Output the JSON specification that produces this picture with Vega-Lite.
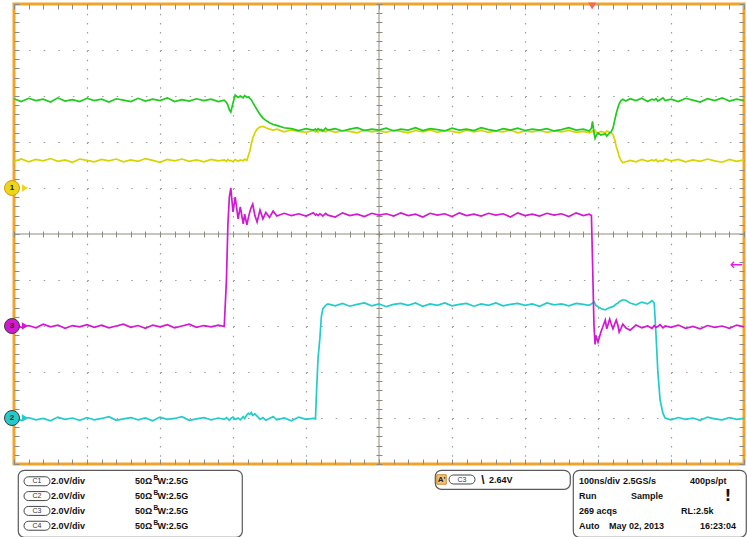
{
"$schema":"https://vega.github.io/schema/vega-lite/v6.json",
"background":"white",
"padding":{"left":1,"top":0,"right":0,"bottom":0},
"bounds":"flush",
"spacing":6,
"config":{"view":{"stroke":null},"font":"Liberation Sans","text":{"font":"Liberation Sans","fontWeight":"bold","fontSize":9,"color":"#111","baseline":"middle"},"axis":{"minExtent":0,"labels":false,"domain":false,"grid":false,"labelPadding":0,"titlePadding":0}},
"datasets":{
"scope":[
{"t":-500,"c1":1.58,"c2":-4.00,"c3":-1.97,"c4":2.94},
{"t":-490,"c1":1.63,"c2":-4.05,"c3":-2.03,"c4":2.88},
{"t":-480,"c1":1.57,"c2":-3.99,"c3":-1.99,"c4":2.95},
{"t":-470,"c1":1.62,"c2":-4.04,"c3":-2.04,"c4":2.90},
{"t":-460,"c1":1.59,"c2":-4.01,"c3":-1.96,"c4":2.93},
{"t":-450,"c1":1.64,"c2":-4.06,"c3":-2.02,"c4":2.87},
{"t":-440,"c1":1.58,"c2":-3.98,"c3":-1.98,"c4":2.96},
{"t":-430,"c1":1.61,"c2":-4.03,"c3":-2.05,"c4":2.89},
{"t":-420,"c1":1.56,"c2":-4.00,"c3":-1.99,"c4":2.92},
{"t":-410,"c1":1.63,"c2":-4.05,"c3":-2.02,"c4":2.88},
{"t":-400,"c1":1.60,"c2":-3.99,"c3":-1.97,"c4":2.95},
{"t":-390,"c1":1.57,"c2":-4.04,"c3":-2.03,"c4":2.90},
{"t":-380,"c1":1.62,"c2":-4.01,"c3":-1.98,"c4":2.93},
{"t":-370,"c1":1.59,"c2":-3.97,"c3":-2.04,"c4":2.87},
{"t":-360,"c1":1.63,"c2":-4.05,"c3":-2.00,"c4":2.94},
{"t":-350,"c1":1.57,"c2":-4.02,"c3":-1.96,"c4":2.91},
{"t":-340,"c1":1.61,"c2":-3.99,"c3":-2.03,"c4":2.88},
{"t":-330,"c1":1.58,"c2":-4.04,"c3":-1.99,"c4":2.95},
{"t":-320,"c1":1.64,"c2":-4.00,"c3":-2.05,"c4":2.89},
{"t":-310,"c1":1.60,"c2":-4.06,"c3":-1.98,"c4":2.93},
{"t":-300,"c1":1.56,"c2":-3.98,"c3":-2.02,"c4":2.90},
{"t":-290,"c1":1.62,"c2":-4.03,"c3":-1.97,"c4":2.96},
{"t":-280,"c1":1.59,"c2":-4.01,"c3":-2.04,"c4":2.88},
{"t":-270,"c1":1.63,"c2":-3.97,"c3":-2.00,"c4":2.92},
{"t":-260,"c1":1.58,"c2":-4.05,"c3":-1.96,"c4":2.89},
{"t":-250,"c1":1.61,"c2":-4.02,"c3":-2.03,"c4":2.94},
{"t":-240,"c1":1.57,"c2":-3.99,"c3":-1.99,"c4":2.90},
{"t":-230,"c1":1.62,"c2":-4.04,"c3":-2.02,"c4":2.93},
{"t":-220,"c1":1.59,"c2":-4.00,"c3":-1.98,"c4":2.88},
{"t":-212,"c1":1.61,"c2":-4.03,"c3":-2.01,"c4":2.91},
{"t":-209,"c1":1.58,"c2":-3.99,"c3":-1.0,"c4":2.86},
{"t":-207,"c1":1.62,"c2":-4.02,"c3":0.2,"c4":2.80},
{"t":-205,"c1":1.59,"c2":-4.05,"c3":0.8,"c4":2.70},
{"t":-203,"c1":1.60,"c2":-4.01,"c3":1.0,"c4":2.65},
{"t":-200,"c1":1.57,"c2":-3.98,"c3":0.48,"c4":2.85},
{"t":-197,"c1":1.62,"c2":-4.03,"c3":0.80,"c4":3.02},
{"t":-193,"c1":1.58,"c2":-4.00,"c3":0.33,"c4":2.97},
{"t":-190,"c1":1.61,"c2":-4.04,"c3":0.59,"c4":3.00},
{"t":-186,"c1":1.59,"c2":-3.97,"c3":0.22,"c4":2.96},
{"t":-184,"c1":1.63,"c2":-4.01,"c3":0.43,"c4":3.01},
{"t":-181,"c1":1.60,"c2":-3.93,"c3":0.20,"c4":2.97},
{"t":-179,"c1":1.70,"c2":-3.90,"c3":0.35,"c4":2.98},
{"t":-177,"c1":1.80,"c2":-3.92,"c3":0.48,"c4":2.95},
{"t":-175,"c1":1.95,"c2":-3.88,"c3":0.58,"c4":2.92},
{"t":-173,"c1":2.08,"c2":-3.94,"c3":0.65,"c4":2.86},
{"t":-170,"c1":2.20,"c2":-3.91,"c3":0.40,"c4":2.78},
{"t":-167,"c1":2.28,"c2":-3.96,"c3":0.26,"c4":2.70},
{"t":-163,"c1":2.33,"c2":-4.03,"c3":0.52,"c4":2.60},
{"t":-159,"c1":2.34,"c2":-3.99,"c3":0.33,"c4":2.52},
{"t":-155,"c1":2.31,"c2":-4.05,"c3":0.47,"c4":2.47},
{"t":-150,"c1":2.28,"c2":-4.01,"c3":0.36,"c4":2.42},
{"t":-145,"c1":2.26,"c2":-3.97,"c3":0.50,"c4":2.38},
{"t":-140,"c1":2.28,"c2":-4.04,"c3":0.39,"c4":2.36},
{"t":-130,"c1":2.22,"c2":-4.00,"c3":0.45,"c4":2.31},
{"t":-120,"c1":2.26,"c2":-4.06,"c3":0.40,"c4":2.29},
{"t":-110,"c1":2.23,"c2":-3.98,"c3":0.44,"c4":2.25},
{"t":-100,"c1":2.21,"c2":-4.03,"c3":0.39,"c4":2.29},
{"t":-90,"c1":2.25,"c2":-4.01,"c3":0.46,"c4":2.26},
{"t":-87,"c1":2.22,"c2":-4.02,"c3":0.41,"c4":2.28},
{"t":-85.5,"c1":2.24,"c2":-3.40,"c3":0.43,"c4":2.25},
{"t":-83.5,"c1":2.21,"c2":-2.70,"c3":0.40,"c4":2.29},
{"t":-81,"c1":2.26,"c2":-2.27,"c3":0.44,"c4":2.26},
{"t":-79,"c1":2.23,"c2":-1.80,"c3":0.42,"c4":2.27},
{"t":-77,"c1":2.25,"c2":-1.63,"c3":0.39,"c4":2.24},
{"t":-73,"c1":2.22,"c2":-1.55,"c3":0.45,"c4":2.30},
{"t":-70,"c1":2.26,"c2":-1.52,"c3":0.41,"c4":2.26},
{"t":-60,"c1":2.21,"c2":-1.56,"c3":0.37,"c4":2.29},
{"t":-50,"c1":2.25,"c2":-1.51,"c3":0.46,"c4":2.24},
{"t":-40,"c1":2.23,"c2":-1.57,"c3":0.40,"c4":2.28},
{"t":-30,"c1":2.20,"c2":-1.53,"c3":0.43,"c4":2.31},
{"t":-20,"c1":2.26,"c2":-1.50,"c3":0.38,"c4":2.25},
{"t":-10,"c1":2.22,"c2":-1.56,"c3":0.45,"c4":2.28},
{"t":0,"c1":2.24,"c2":-1.52,"c3":0.41,"c4":2.26},
{"t":10,"c1":2.21,"c2":-1.58,"c3":0.44,"c4":2.30},
{"t":20,"c1":2.26,"c2":-1.53,"c3":0.39,"c4":2.24},
{"t":30,"c1":2.23,"c2":-1.51,"c3":0.46,"c4":2.28},
{"t":40,"c1":2.20,"c2":-1.55,"c3":0.40,"c4":2.26},
{"t":50,"c1":2.25,"c2":-1.50,"c3":0.43,"c4":2.31},
{"t":60,"c1":2.22,"c2":-1.57,"c3":0.37,"c4":2.25},
{"t":70,"c1":2.26,"c2":-1.52,"c3":0.45,"c4":2.29},
{"t":80,"c1":2.21,"c2":-1.55,"c3":0.41,"c4":2.27},
{"t":90,"c1":2.25,"c2":-1.50,"c3":0.44,"c4":2.24},
{"t":100,"c1":2.23,"c2":-1.56,"c3":0.38,"c4":2.30},
{"t":110,"c1":2.20,"c2":-1.53,"c3":0.46,"c4":2.26},
{"t":120,"c1":2.26,"c2":-1.51,"c3":0.40,"c4":2.28},
{"t":130,"c1":2.22,"c2":-1.57,"c3":0.43,"c4":2.25},
{"t":140,"c1":2.25,"c2":-1.52,"c3":0.39,"c4":2.31},
{"t":150,"c1":2.21,"c2":-1.55,"c3":0.45,"c4":2.27},
{"t":160,"c1":2.24,"c2":-1.50,"c3":0.41,"c4":2.24},
{"t":170,"c1":2.22,"c2":-1.56,"c3":0.44,"c4":2.29},
{"t":180,"c1":2.26,"c2":-1.53,"c3":0.37,"c4":2.26},
{"t":190,"c1":2.20,"c2":-1.51,"c3":0.46,"c4":2.30},
{"t":200,"c1":2.24,"c2":-1.55,"c3":0.40,"c4":2.25},
{"t":210,"c1":2.22,"c2":-1.52,"c3":0.43,"c4":2.28},
{"t":220,"c1":2.25,"c2":-1.57,"c3":0.39,"c4":2.26},
{"t":230,"c1":2.21,"c2":-1.50,"c3":0.45,"c4":2.29},
{"t":240,"c1":2.24,"c2":-1.54,"c3":0.41,"c4":2.24},
{"t":250,"c1":2.22,"c2":-1.52,"c3":0.44,"c4":2.27},
{"t":260,"c1":2.25,"c2":-1.56,"c3":0.38,"c4":2.31},
{"t":270,"c1":2.21,"c2":-1.51,"c3":0.46,"c4":2.26},
{"t":280,"c1":2.23,"c2":-1.53,"c3":0.40,"c4":2.28},
{"t":288,"c1":2.20,"c2":-1.55,"c3":0.43,"c4":2.24},
{"t":291,"c1":2.22,"c2":-1.52,"c3":0.40,"c4":2.30},
{"t":292.5,"c1":2.24,"c2":-1.50,"c3":-0.6,"c4":2.45},
{"t":294.5,"c1":2.21,"c2":-1.47,"c3":-2.0,"c4":2.20},
{"t":296,"c1":2.25,"c2":-1.52,"c3":-2.40,"c4":2.08},
{"t":297,"c1":2.22,"c2":-1.55,"c3":-2.20,"c4":2.12},
{"t":300,"c1":2.19,"c2":-1.58,"c3":-2.35,"c4":2.20},
{"t":304,"c1":2.23,"c2":-1.62,"c3":-2.13,"c4":2.15},
{"t":310,"c1":2.20,"c2":-1.65,"c3":-1.87,"c4":2.18},
{"t":312,"c1":2.24,"c2":-1.63,"c3":-2.06,"c4":2.13},
{"t":316,"c1":2.21,"c2":-1.60,"c3":-1.85,"c4":2.20},
{"t":318,"c1":2.20,"c2":-1.59,"c3":-1.95,"c4":2.22},
{"t":320.5,"c1":2.16,"c2":-1.58,"c3":-2.06,"c4":2.30},
{"t":323,"c1":2.05,"c2":-1.55,"c3":-1.95,"c4":2.48},
{"t":325,"c1":1.90,"c2":-1.52,"c3":-1.87,"c4":2.62},
{"t":327.5,"c1":1.78,"c2":-1.50,"c3":-2.00,"c4":2.76},
{"t":329,"c1":1.68,"c2":-1.47,"c3":-2.13,"c4":2.83},
{"t":331.5,"c1":1.60,"c2":-1.45,"c3":-2.05,"c4":2.90},
{"t":334,"c1":1.55,"c2":-1.43,"c3":-1.96,"c4":2.93},
{"t":338,"c1":1.57,"c2":-1.44,"c3":-2.04,"c4":2.89},
{"t":344,"c1":1.60,"c2":-1.50,"c3":-2.09,"c4":2.94},
{"t":352,"c1":1.57,"c2":-1.54,"c3":-1.98,"c4":2.90},
{"t":360,"c1":1.62,"c2":-1.48,"c3":-2.04,"c4":2.95},
{"t":368,"c1":1.58,"c2":-1.52,"c3":-2.00,"c4":2.88},
{"t":374,"c1":1.61,"c2":-1.45,"c3":-2.05,"c4":2.93},
{"t":377,"c1":1.59,"c2":-1.50,"c3":-1.99,"c4":2.91},
{"t":379.5,"c1":1.62,"c2":-2.20,"c3":-2.03,"c4":2.94},
{"t":382,"c1":1.57,"c2":-3.00,"c3":-2.01,"c4":2.89},
{"t":385,"c1":1.60,"c2":-3.60,"c3":-1.97,"c4":2.92},
{"t":389,"c1":1.58,"c2":-3.90,"c3":-2.04,"c4":2.96},
{"t":392,"c1":1.63,"c2":-4.00,"c3":-2.00,"c4":2.90},
{"t":400,"c1":1.59,"c2":-4.04,"c3":-2.03,"c4":2.93},
{"t":410,"c1":1.62,"c2":-3.99,"c3":-1.98,"c4":2.88},
{"t":420,"c1":1.57,"c2":-4.03,"c3":-2.05,"c4":2.95},
{"t":430,"c1":1.61,"c2":-4.00,"c3":-2.01,"c4":2.91},
{"t":440,"c1":1.58,"c2":-4.05,"c3":-2.06,"c4":2.87},
{"t":450,"c1":1.63,"c2":-3.98,"c3":-1.99,"c4":2.94},
{"t":460,"c1":1.59,"c2":-4.02,"c3":-2.03,"c4":2.90},
{"t":470,"c1":1.56,"c2":-4.04,"c3":-2.00,"c4":2.96},
{"t":480,"c1":1.62,"c2":-3.99,"c3":-2.05,"c4":2.89},
{"t":490,"c1":1.58,"c2":-4.03,"c3":-1.98,"c4":2.93},
{"t":500,"c1":1.61,"c2":-4.01,"c3":-2.02,"c4":2.90}
],
"markers":[{"ch":"1","lvl":1.0},{"ch":"3","lvl":-2.0},{"ch":"2","lvl":-4.0}],
"chan":[
{"ch":"C1","vdiv":"2.0V/div","imp":"50Ω","bwB":"B","bw":"W:2.5G"},
{"ch":"C2","vdiv":"2.0V/div","imp":"50Ω","bwB":"B","bw":"W:2.5G"},
{"ch":"C3","vdiv":"2.0V/div","imp":"50Ω","bwB":"B","bw":"W:2.5G"},
{"ch":"C4","vdiv":"2.0V/div","imp":"50Ω","bwB":"B","bw":"W:2.5G"}
],
"readout":[
{"row":1,"a":"100ns/div","b":"2.5GS/s","c":"400ps/pt"},
{"row":2,"a":"Run","b":"Sample","c":"!"},
{"row":3,"a":"269 acqs","b":"","c":"RL:2.5k"},
{"row":4,"a":"Auto","b":"May 02, 2013","c":"16:23:04"}
],
"trig":[{"mode":"A'","src":"C3","slope":"\\","lvl":"2.64V"}]
},
"vconcat":[
{
"width":730,"height":460,
"view":{"stroke":"#f2a32a","strokeWidth":3},
"resolve":{"axis":{"x":"independent","y":"independent"}},
"layer":[
{"data":{"values":[{}]},"mark":{"type":"point","opacity":0},
 "encoding":{
  "x":{"datum":0,"type":"quantitative","scale":{"domain":[-500,500],"nice":false,"zero":false},"axis":{"orient":"bottom","values":[-400,-300,-200,-100,100,200,300,400],"grid":true,"gridDash":[1.5,7.7],"gridColor":"#9c9c9c","gridWidth":1.2,"ticks":false,"labels":false,"domain":false,"title":null}},
  "y":{"datum":0,"type":"quantitative","scale":{"domain":[-5,5],"nice":false,"zero":false},"axis":{"orient":"left","values":[-4,-3,-2,-1,1,2,3,4],"grid":true,"gridDash":[1.5,13.1],"gridColor":"#9c9c9c","gridWidth":1.2,"ticks":false,"labels":false,"domain":false,"title":null}}}},
{"data":{"values":[{}]},"mark":{"type":"rule","color":"#8e8b7d","strokeWidth":1},
 "encoding":{"x":{"datum":0,"type":"quantitative","scale":{"domain":[-500,500],"nice":false,"zero":false},"axis":null}}},
{"data":{"values":[{}]},"mark":{"type":"rule","color":"#8e8b7d","strokeWidth":1},
 "encoding":{"y":{"datum":0,"type":"quantitative","scale":{"domain":[-5,5],"nice":false,"zero":false},"axis":null}}},
{"data":{"values":[{}]},"mark":{"type":"point","opacity":0},
 "encoding":{
  "x":{"datum":0,"type":"quantitative","scale":{"domain":[-500,500],"nice":false,"zero":false},"axis":{"orient":"bottom","offset":-233,"tickCount":50,"tickSize":6,"tickColor":"#8e8b7d","tickWidth":1,"labels":false,"domain":false,"grid":false,"title":null}},
  "y":{"datum":0,"type":"quantitative","scale":{"domain":[-5,5],"nice":false,"zero":false},"axis":{"orient":"left","offset":-368,"tickCount":50,"tickSize":6,"tickColor":"#8e8b7d","tickWidth":1,"labels":false,"domain":false,"grid":false,"title":null}}}},
{"data":{"values":[{}]},"mark":{"type":"point","opacity":0},
 "encoding":{
  "x":{"datum":0,"type":"quantitative","scale":{"domain":[-500,500],"nice":false,"zero":false},"axis":{"orient":"top","tickCount":50,"tickSize":-5,"tickColor":"#8a8a8a","tickWidth":1,"labels":false,"domain":false,"grid":false,"title":null}},
  "y":{"datum":0,"type":"quantitative","scale":{"domain":[-5,5],"nice":false,"zero":false},"axis":{"orient":"right","tickCount":50,"tickSize":-5,"tickColor":"#8a8a8a","tickWidth":1,"labels":false,"domain":false,"grid":false,"title":null}}}},
{"data":{"values":[{}]},"mark":{"type":"point","opacity":0},
 "encoding":{
  "x":{"datum":0,"type":"quantitative","scale":{"domain":[-500,500],"nice":false,"zero":false},"axis":{"orient":"bottom","tickCount":50,"tickSize":-5,"tickColor":"#8a8a8a","tickWidth":1,"labels":false,"domain":false,"grid":false,"title":null}},
  "y":{"datum":0,"type":"quantitative","scale":{"domain":[-5,5],"nice":false,"zero":false},"axis":{"orient":"left","tickCount":50,"tickSize":-5,"tickColor":"#8a8a8a","tickWidth":1,"labels":false,"domain":false,"grid":false,"title":null}}}},
{"data":{"name":"scope"},
 "transform":[{"fold":["c1","c4","c2","c3"],"as":["ch","v"]}],
 "mark":{"type":"line","strokeWidth":1.7},
 "encoding":{
  "x":{"field":"t","type":"quantitative","scale":{"domain":[-500,500],"nice":false,"zero":false},"axis":null},
  "y":{"field":"v","type":"quantitative","scale":{"domain":[-5,5],"nice":false,"zero":false},"axis":null},
  "color":{"field":"ch","type":"nominal","scale":{"domain":["c1","c2","c3","c4"],"range":["#d8d400","#22cccc","#d119d1","#1ecb1e"]},"legend":null},
  "detail":{"field":"ch"}}},
{"data":{"name":"markers"},"mark":{"type":"point","shape":"triangle-right","filled":true,"size":55,"xOffset":11,"opacity":1,"strokeWidth":0},
 "encoding":{
  "x":{"datum":-500,"type":"quantitative","scale":{"domain":[-500,500],"nice":false,"zero":false},"axis":null},
  "y":{"field":"lvl","type":"quantitative","scale":{"domain":[-5,5],"nice":false,"zero":false},"axis":null},
  "fill":{"field":"ch","type":"nominal","scale":{"domain":["1","2","3"],"range":["#ecd61c","#22cccc","#d119d1"]},"legend":null}}},
{"data":{"name":"markers"},"mark":{"type":"point","shape":"circle","filled":true,"size":225,"xOffset":-2,"opacity":1,"strokeWidth":1},
 "encoding":{
  "x":{"datum":-500,"type":"quantitative","scale":{"domain":[-500,500],"nice":false,"zero":false},"axis":null},
  "y":{"field":"lvl","type":"quantitative","scale":{"domain":[-5,5],"nice":false,"zero":false},"axis":null},
  "fill":{"field":"ch","type":"nominal","scale":{"domain":["1","2","3"],"range":["#ecd61c","#22cccc","#d119d1"]},"legend":null},
  "stroke":{"field":"ch","type":"nominal","scale":{"domain":["1","2","3"],"range":["#d79a10","#3a3a3a","#3a3a3a"]},"legend":null}}},
{"data":{"name":"markers"},"mark":{"type":"text","xOffset":-2,"fontSize":8,"fontWeight":"bold","color":"#222","align":"center"},
 "encoding":{
  "x":{"datum":-500,"type":"quantitative","scale":{"domain":[-500,500],"nice":false,"zero":false},"axis":null},
  "y":{"field":"lvl","type":"quantitative","scale":{"domain":[-5,5],"nice":false,"zero":false},"axis":null},
  "text":{"field":"ch"}}},
{"data":{"values":[{}]},"mark":{"type":"point","shape":"triangle-down","filled":true,"size":70,"color":"#f06a5e","opacity":1,"yOffset":2},
 "encoding":{
  "x":{"datum":292,"type":"quantitative","scale":{"domain":[-500,500],"nice":false,"zero":false},"axis":null},
  "y":{"datum":5,"type":"quantitative","scale":{"domain":[-5,5],"nice":false,"zero":false},"axis":null}}},
{"data":{"values":[{"lbl":"←"}]},"mark":{"type":"text","align":"right","dx":-1,"fontSize":16,"fontWeight":"normal","font":"DejaVu Sans","color":"#e01ee0"},
 "encoding":{
  "x":{"datum":500,"type":"quantitative","scale":{"domain":[-500,500],"nice":false,"zero":false},"axis":null},
  "y":{"datum":-0.67,"type":"quantitative","scale":{"domain":[-5,5],"nice":false,"zero":false},"axis":null},
  "text":{"field":"lbl"}}}
]
},
{
"hconcat":[
 {"width":1,"height":1,"data":{"values":[{}]},"mark":{"type":"point","opacity":0}},
 {"hconcat":[
  {"width":224,"height":67,"view":{"stroke":"#5a5a5a","strokeWidth":1.2,"cornerRadius":6,"fill":"white"},
   "data":{"name":"chan"},
   "encoding":{"y":{"field":"ch","type":"nominal","scale":{"domain":["C1","C2","C3","C4"],"padding":0.76},"axis":null}},
   "layer":[
    {"mark":{"type":"point","shape":"M -0.654 -0.346 L 0.654 -0.346 A 0.346 0.346 0 0 1 0.654 0.346 L -0.654 0.346 A 0.346 0.346 0 0 1 -0.654 -0.346 Z","size":676,"filled":false,"stroke":"#444","strokeWidth":1,"opacity":1},
     "encoding":{"x":{"datum":19,"type":"quantitative","scale":{"domain":[0,224],"nice":false,"zero":false},"axis":null}}},
    {"mark":{"type":"text","fontSize":7,"fontWeight":"normal","align":"center","color":"#333"},
     "encoding":{"x":{"datum":19,"type":"quantitative","scale":{"domain":[0,224],"nice":false,"zero":false},"axis":null},"text":{"field":"ch"}}},
    {"mark":{"type":"text","align":"left"},
     "encoding":{"x":{"datum":33,"type":"quantitative","scale":{"domain":[0,224],"nice":false,"zero":false},"axis":null},"text":{"field":"vdiv"}}},
    {"mark":{"type":"text","align":"left"},
     "encoding":{"x":{"datum":117,"type":"quantitative","scale":{"domain":[0,224],"nice":false,"zero":false},"axis":null},"text":{"field":"imp"}}},
    {"mark":{"type":"text","align":"left","fontSize":6.5,"dy":-3},
     "encoding":{"x":{"datum":135.5,"type":"quantitative","scale":{"domain":[0,224],"nice":false,"zero":false},"axis":null},"text":{"field":"bwB"}}},
    {"mark":{"type":"text","align":"left"},
     "encoding":{"x":{"datum":139.5,"type":"quantitative","scale":{"domain":[0,224],"nice":false,"zero":false},"axis":null},"text":{"field":"bw"}}}
   ]},
  {"hconcat":[
   {"width":135,"height":19,"view":{"stroke":"#5a5a5a","strokeWidth":1.2,"cornerRadius":6,"fill":"white"},
    "data":{"name":"trig"},
    "encoding":{"y":{"field":"src","type":"nominal","axis":null}},
    "layer":[
     {"mark":{"type":"point","shape":"square","size":90,"filled":true,"color":"#f3c27c","stroke":"#c98b34","strokeWidth":1,"opacity":1},
      "encoding":{"x":{"datum":6.5,"type":"quantitative","scale":{"domain":[0,135],"nice":false,"zero":false},"axis":null}}},
     {"mark":{"type":"text","fontSize":8,"align":"center","color":"#222"},
      "encoding":{"x":{"datum":6.5,"type":"quantitative","scale":{"domain":[0,135],"nice":false,"zero":false},"axis":null},"text":{"field":"mode"}}},
     {"mark":{"type":"point","shape":"M -0.654 -0.346 L 0.654 -0.346 A 0.346 0.346 0 0 1 0.654 0.346 L -0.654 0.346 A 0.346 0.346 0 0 1 -0.654 -0.346 Z","size":676,"filled":false,"stroke":"#444","strokeWidth":1,"opacity":1},
      "encoding":{"x":{"datum":27,"type":"quantitative","scale":{"domain":[0,135],"nice":false,"zero":false},"axis":null}}},
     {"mark":{"type":"text","fontSize":7,"fontWeight":"normal","align":"center","color":"#333"},
      "encoding":{"x":{"datum":27,"type":"quantitative","scale":{"domain":[0,135],"nice":false,"zero":false},"axis":null},"text":{"field":"src"}}},
     {"mark":{"type":"text","fontSize":12,"align":"center"},
      "encoding":{"x":{"datum":48,"type":"quantitative","scale":{"domain":[0,135],"nice":false,"zero":false},"axis":null},"text":{"field":"slope"}}},
     {"mark":{"type":"text","align":"left"},
      "encoding":{"x":{"datum":54,"type":"quantitative","scale":{"domain":[0,135],"nice":false,"zero":false},"axis":null},"text":{"field":"lvl"}}}
    ]},
   {"width":173,"height":67,"view":{"stroke":"#5a5a5a","strokeWidth":1.2,"cornerRadius":6,"fill":"white"},
    "data":{"name":"readout"},
    "encoding":{"y":{"field":"row","type":"nominal","scale":{"domain":[1,2,3,4],"padding":0.76},"axis":null}},
    "layer":[
     {"mark":{"type":"text","align":"left"},
      "encoding":{"x":{"datum":6,"type":"quantitative","scale":{"domain":[0,173],"nice":false,"zero":false},"axis":null},"text":{"field":"a"}}},
     {"transform":[{"filter":"datum.row==1"}],"mark":{"type":"text","align":"left"},
      "encoding":{"x":{"datum":50,"type":"quantitative","scale":{"domain":[0,173],"nice":false,"zero":false},"axis":null},"text":{"field":"b"}}},
     {"transform":[{"filter":"datum.row==2"}],"mark":{"type":"text","align":"left"},
      "encoding":{"x":{"datum":58,"type":"quantitative","scale":{"domain":[0,173],"nice":false,"zero":false},"axis":null},"text":{"field":"b"}}},
     {"transform":[{"filter":"datum.row==4"}],"mark":{"type":"text","align":"left"},
      "encoding":{"x":{"datum":36,"type":"quantitative","scale":{"domain":[0,173],"nice":false,"zero":false},"axis":null},"text":{"field":"b"}}},
     {"transform":[{"filter":"datum.row==1"}],"mark":{"type":"text","align":"left"},
      "encoding":{"x":{"datum":117,"type":"quantitative","scale":{"domain":[0,173],"nice":false,"zero":false},"axis":null},"text":{"field":"c"}}},
     {"transform":[{"filter":"datum.row==2"}],"mark":{"type":"text","align":"center","fontSize":15,"font":"DejaVu Sans"},
      "encoding":{"x":{"datum":155,"type":"quantitative","scale":{"domain":[0,173],"nice":false,"zero":false},"axis":null},"text":{"field":"c"}}},
     {"transform":[{"filter":"datum.row==3"}],"mark":{"type":"text","align":"left"},
      "encoding":{"x":{"datum":108,"type":"quantitative","scale":{"domain":[0,173],"nice":false,"zero":false},"axis":null},"text":{"field":"c"}}},
     {"transform":[{"filter":"datum.row==4"}],"mark":{"type":"text","align":"left"},
      "encoding":{"x":{"datum":127,"type":"quantitative","scale":{"domain":[0,173],"nice":false,"zero":false},"axis":null},"text":{"field":"c"}}}
    ]}
  ],"spacing":3,"bounds":"flush"}
 ],"spacing":193,"bounds":"flush"}
],"spacing":3,"bounds":"flush"
}
]
}
